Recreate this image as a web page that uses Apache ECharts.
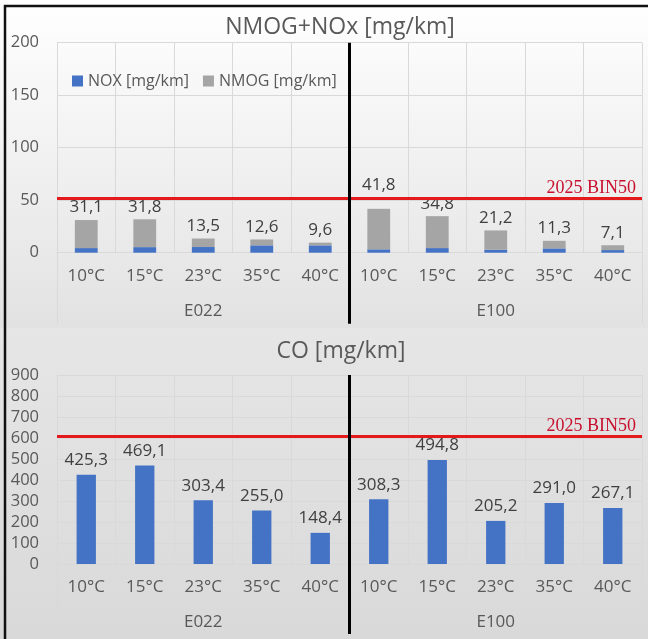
<!DOCTYPE html>
<html>
<head>
<meta charset="utf-8">
<script src="https://cdn.jsdelivr.net/npm/echarts@6/dist/echarts.min.js"></script>
<style>
html,body{margin:0;padding:0;background:#fff;}
#chart{width:648px;height:639px;}
</style>
</head>
<body>
<div id="chart"></div>
<script>
// ---- data ----
const temps = ['10°C','15°C','23°C','35°C','40°C','10°C','15°C','23°C','35°C','40°C'];
const groups = ['E022','E100'];
const noxValues  = [4.4, 5.3, 5.4, 7.0, 7.0, 3.2, 4.4, 2.9, 4.1, 2.5];
const nmogValues = [26.7, 26.5, 8.1, 5.6, 2.6, 38.6, 30.4, 18.3, 7.2, 4.6];
const nmogNoxTotals = [31.1, 31.8, 13.5, 12.6, 9.6, 41.8, 34.8, 21.2, 11.3, 7.1];
const coValues = [425.3, 469.1, 303.4, 255.0, 148.4, 308.3, 494.8, 205.2, 291.0, 267.1];
const limitNmogNox = 52;
const limitCO = 610;
const limitLabel = '2025 BIN50';
const titles = ['NMOG+NOx [mg/km]', 'CO [mg/km]'];
const legendNames = ['NOX [mg/km]', 'NMOG [mg/km]'];

// ---- styles ----
const FONT = 'Open Sans';
const GRID_C = '#d9d9d9';
const TXT = '#595959';
const BLUE = '#4472C4';
const GRAY = '#A5A5A5';
const fmt = v => Number(v).toFixed(1).replace('.', ',');

const chart = echarts.init(document.getElementById('chart'), null, {renderer: 'canvas'});

function catAxis(gi) {
  return {
    type: 'category', gridIndex: gi, data: temps, position: 'bottom',
    axisLine: {show: true, lineStyle: {color: GRID_C, width: 1}},
    axisTick: {show: false},
    splitLine: {show: true, lineStyle: {color: GRID_C, width: 1}},
    axisLabel: {color: TXT, fontFamily: FONT, fontSize: 17, margin: 15, interval: 0}
  };
}
function groupAxis(gi, len) {
  return {
    type: 'category', gridIndex: gi, data: groups, position: 'bottom',
    axisLine: {show: false},
    axisTick: {show: true, length: len, interval: 0, lineStyle: {color: GRID_C, width: 1}},
    splitLine: {show: false},
    axisLabel: {color: TXT, fontFamily: FONT, fontSize: 17, margin: 50, interval: 0}
  };
}
function valAxis(gi, max, interval) {
  return {
    type: 'value', gridIndex: gi, min: 0, max: max, interval: interval,
    axisLine: {show: false}, axisTick: {show: false},
    splitLine: {show: true, lineStyle: {color: GRID_C, width: 1}},
    axisLabel: {color: TXT, fontFamily: FONT, fontSize: 16.5, margin: 18}
  };
}
function limitLine(val) {
  return {
    silent: true, symbol: 'none',
    lineStyle: {color: '#e3191c', width: 3, type: 'solid'},
    label: {show: true, position: 'insideEndTop', formatter: limitLabel, color: '#c8102e',
            fontFamily: 'Liberation Serif', fontSize: 18, distance: [6, 1]},
    data: [{yAxis: val}]
  };
}

const option = {
  animation: false,
  backgroundColor: 'transparent',
  title: [
    {text: titles[0], left: 335, top: 11, textAlign: 'center',
     textStyle: {color: TXT, fontFamily: FONT, fontSize: 23, fontWeight: 'normal'}},
    {text: titles[1], left: 336, top: 335, textAlign: 'center',
     textStyle: {color: TXT, fontFamily: FONT, fontSize: 23, fontWeight: 'normal'}}
  ],
  legend: {
    data: legendNames, left: 67, top: 68, itemWidth: 11, itemHeight: 11, itemGap: 14,
    icon: 'rect',
    textStyle: {color: TXT, fontFamily: FONT, fontSize: 16}
  },
  grid: [
    {left: 57, right: 6, top: 42.7, height: 210},
    {left: 57, right: 6, top: 375, height: 189}
  ],
  xAxis: [catAxis(0), groupAxis(0, 71), catAxis(1), groupAxis(1, 70)],
  yAxis: [valAxis(0, 200, 50), valAxis(1, 900, 100)],
  series: [
    {name: legendNames[0], type: 'bar', stack: 'nn', xAxisIndex: 0, yAxisIndex: 0,
     data: noxValues, barWidth: '39%', itemStyle: {color: BLUE}},
    {name: legendNames[1], type: 'bar', stack: 'nn', xAxisIndex: 0, yAxisIndex: 0,
     data: nmogValues.map((v, i) => i === 5 ? {value: v, label: {distance: 15}} : v),
     barWidth: '39%', itemStyle: {color: GRAY},
     label: {show: true, position: 'top', distance: 4, color: '#404040', fontFamily: FONT, fontSize: 17,
             formatter: p => fmt(nmogNoxTotals[p.dataIndex])},
     markLine: limitLine(limitNmogNox)},
    {name: 'CO', type: 'bar', xAxisIndex: 2, yAxisIndex: 1,
     data: coValues, barWidth: '33%', itemStyle: {color: BLUE},
     label: {show: true, position: 'top', distance: 6, color: '#404040', fontFamily: FONT, fontSize: 17,
             formatter: p => fmt(p.value)},
     markLine: limitLine(limitCO)}
  ]
};
chart.setOption(option);

// background, frame, and group divider lines derived from the axes
function dividers() {
  const out = [];
  [[0, 0, 71], [2, 1, 70]].forEach(([xi, yi, len], k) => {
    const a = chart.convertToPixel({xAxisIndex: xi}, 4);
    const b = chart.convertToPixel({xAxisIndex: xi}, 5);
    const x = (a + b) / 2;
    const yTop = chart.convertToPixel({yAxisIndex: yi}, yi === 0 ? 200 : 900);
    const yBot = chart.convertToPixel({yAxisIndex: yi}, 0) + len;
    out.push({type: 'line', id: 'div' + k, z: 50,
      shape: {x1: x, y1: yTop, x2: x, y2: yBot},
      style: {stroke: '#000', lineWidth: 3}});
  });
  return out;
}
chart.setOption({
  graphic: [
    {type: 'rect', id: 'bg1', z: -100, shape: {x: 0, y: 0, width: 648, height: 328},
     style: {fill: new echarts.graphic.LinearGradient(0, 0, 0, 1, [
       {offset: 0, color: '#ffffff'}, {offset: 1, color: '#e2e2e2'}])}},
    {type: 'rect', id: 'bg2', z: -100, shape: {x: 0, y: 328, width: 648, height: 311},
     style: {fill: new echarts.graphic.LinearGradient(0, 0, 0, 1, [
       {offset: 0, color: '#e6e6e6'}, {offset: 1, color: '#d9d9d9'}])}},
    {type: 'rect', id: 'frame', z: 60, shape: {x: 5, y: 6, width: 660, height: 660},
     style: {fill: 'none', stroke: '#111', lineWidth: 2.5}}
  ].concat(dividers())
});
</script>
</body>
</html>
